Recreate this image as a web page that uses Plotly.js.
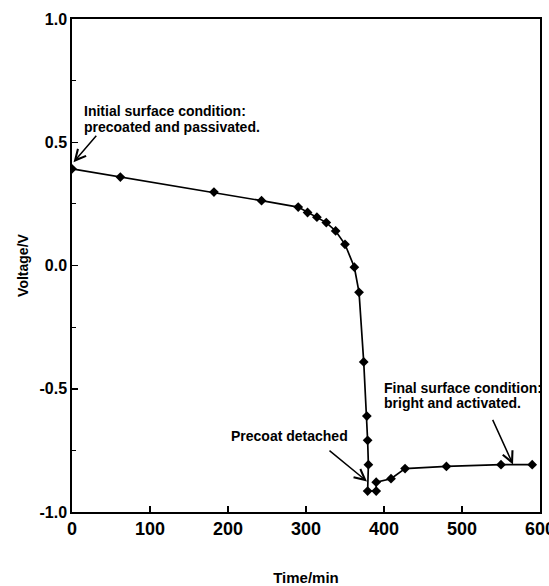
<!DOCTYPE html>
<html>
<head>
<meta charset="utf-8">
<script src="https://cdn.plot.ly/plotly-3.0.1.min.js"></script>
<style>html,body{margin:0;padding:0;background:#fff;}</style>
</head>
<body>
<div id="chart" style="width:549px;height:586px;"></div>
<script>
// Data
const timeMin = [0, 62, 182, 243, 290, 302, 314, 326, 338, 350, 362, 368, 374, 378, 379, 380, 379, 390, 390, 409, 427, 480, 550, 590];
const voltageV = [0.392, 0.359, 0.298, 0.263, 0.237, 0.215, 0.196, 0.174, 0.140, 0.086, -0.007, -0.109, -0.391, -0.611, -0.709, -0.808, -0.915, -0.915, -0.879, -0.865, -0.824, -0.815, -0.808, -0.808];

const xTickVals = [0, 100, 200, 300, 400, 500, 600];
const xTickText = ['0', '100', '200', '300', '400', '500', '600'];
const yTickVals = [-1, -0.5, 0, 0.5, 1];
const yTickText = ['-1.0', '-0.5', '0.0', '0.5', '1.0'];

const FONT = 'Liberation Sans, Arial, Helvetica, sans-serif';

const trace = {
  x: timeMin,
  y: voltageV,
  type: 'scatter',
  mode: 'lines+markers',
  line: {color: '#000', width: 1.7},
  marker: {symbol: 'diamond', size: 7.5, color: '#000'},
  hoverinfo: 'skip'
};

const textFont = {family: FONT, size: 14, color: '#000', weight: 700};

function label(text, x, y, xanchor) {
  return {text: text, x: x, y: y, xref: 'x', yref: 'y', xanchor: xanchor, yanchor: 'middle',
          showarrow: false, font: textFont};
}
function arrow(x, y, ax, ay) {
  return {text: '', x: x, y: y, xref: 'x', yref: 'y', ax: ax, ay: ay,
          showarrow: true, arrowhead: 5, arrowsize: 1.4, arrowwidth: 1.5, arrowcolor: '#000', standoff: 0};
}

const layout = {
  width: 549,
  height: 586,
  margin: {l: 72, r: 9, t: 19, b: 74},
  paper_bgcolor: '#fff',
  plot_bgcolor: '#fff',
  showlegend: false,
  font: {family: FONT, color: '#000'},
  xaxis: {
    range: [0, 600],
    tickvals: xTickVals,
    ticktext: xTickText,
    ticklabeloverflow: 'allow',
    ticks: 'inside',
    ticklen: 6,
    tickwidth: 1.5,
    tickcolor: '#000',
    showline: true,
    linewidth: 1.7,
    linecolor: '#000',
    mirror: true,
    showgrid: false,
    zeroline: false,
    tickfont: {family: FONT, size: 18, color: '#000', weight: 700},
    title: {text: 'Time/min', font: {family: FONT, size: 15, color: '#000', weight: 700}, standoff: 36}
  },
  yaxis: {
    range: [-1, 1],
    tickvals: yTickVals,
    ticktext: yTickText,
    ticklabeloverflow: 'allow',
    ticks: 'inside',
    ticklen: 6,
    tickwidth: 1.5,
    tickcolor: '#000',
    minor: {dtick: 0.25, ticks: 'inside', ticklen: 4, tickwidth: 1.2, tickcolor: '#000'},
    showline: true,
    linewidth: 1.7,
    linecolor: '#000',
    mirror: true,
    showgrid: false,
    zeroline: false,
    tickfont: {family: FONT, size: 16, color: '#000', weight: 700},
    title: {text: 'Voltage/V', font: {family: FONT, size: 14, color: '#000', weight: 700}, standoff: 7}
  },
  annotations: [
    label('Initial surface condition:', 12.8, 0.628, 'left'),
    label('precoated and passivated.', 12.8, 0.563, 'left'),
    arrow(2, 0.419, 24, -28),
    label('Precoat detached', 356, -0.693, 'right'),
    arrow(378.2, -0.876, -39, -32),
    label('Final surface condition:', 397, -0.498, 'left'),
    label('bright and activated.', 397, -0.559, 'left'),
    arrow(565.4, -0.807, -21, -46)
  ]
};

Plotly.newPlot('chart', [trace], layout, {displayModeBar: false, staticPlot: true});
</script>
</body>
</html>
